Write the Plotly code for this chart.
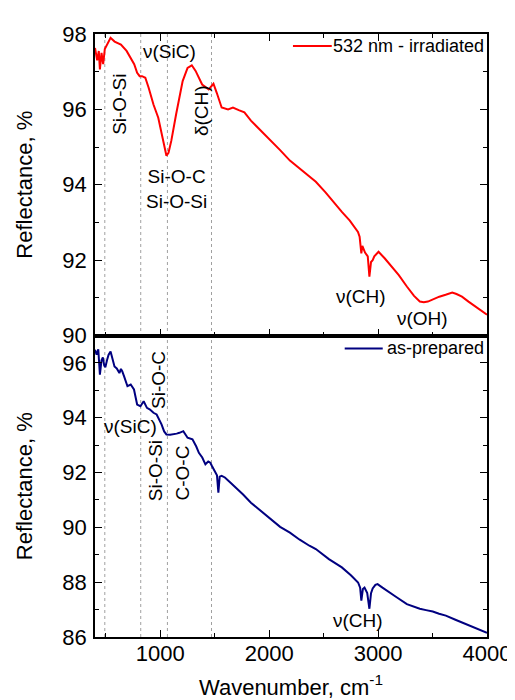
import plotly.graph_objects as go
from plotly.subplots import make_subplots

# ---------------- data ----------------
wn_irr = [400, 420, 435, 445, 460, 475, 490, 520, 543, 580, 638, 690, 728, 760, 787, 810, 832, 862,
          892, 937, 981, 1011, 1035, 1056, 1075, 1101, 1145, 1205, 1250, 1289, 1324, 1384, 1444, 1488,
          1518, 1563, 1622, 1667, 1720, 1772, 1832, 1920, 2011, 2100, 2190, 2280, 2369, 2428, 2517,
          2600, 2667, 2740, 2786, 2815, 2830, 2846, 2855, 2880, 2905, 2920, 2935, 2950, 2965, 3004,
          3060, 3114, 3190, 3264, 3330, 3383, 3420, 3457, 3510, 3562, 3620, 3681, 3720, 3770, 3830,
          3890, 3950, 4000]
refl_irr = [97.63, 97.3, 97.55, 97.06, 97.5, 97.2, 97.6, 97.75, 97.9, 97.8, 97.72, 97.55, 97.37, 97.2,
            96.97, 96.88, 96.88, 96.84, 96.58, 96.13, 95.78, 95.34, 95.0, 94.77, 94.85, 95.17, 95.87,
            96.75, 97.1, 97.17, 97.02, 96.66, 96.53, 96.68, 96.44, 96.05, 96.0, 96.05, 95.98, 95.92,
            95.70, 95.45, 95.17, 94.92, 94.64, 94.42, 94.2, 94.08, 93.8, 93.5, 93.28, 93.05, 92.88,
            92.75, 92.62, 92.18, 92.38, 92.2, 92.1, 91.56, 91.95, 92.0, 92.1, 92.22, 92.05, 91.87,
            91.6, 91.3, 91.05, 90.9, 90.88, 90.9, 90.97, 91.03, 91.08, 91.14, 91.1, 91.03, 90.9,
            90.77, 90.65, 90.55]

wn_prep = [400, 415, 430, 445, 460, 472, 485, 495, 510, 525, 543, 560, 579, 600, 624, 638, 650, 668,
           698, 728, 758, 787, 817, 847, 877, 905, 937, 966, 990, 1011, 1035, 1056, 1090, 1116, 1150,
           1175, 1211, 1250, 1295, 1330, 1354, 1385, 1414, 1440, 1459, 1474, 1503, 1520, 1533, 1545,
           1563, 1593, 1640, 1682, 1760, 1832, 1920, 2011, 2100, 2190, 2280, 2369, 2428, 2548, 2667,
           2750, 2816, 2835, 2846, 2860, 2875, 2900, 2920, 2935, 2950, 2975, 2995, 3040, 3084, 3170,
           3264, 3330, 3383, 3440, 3502, 3560, 3622, 3710, 3800, 3890, 3979, 4000]
refl_prep = [96.48, 96.3, 96.5, 95.57, 96.1, 96.2, 95.9, 95.84, 96.1, 96.3, 96.42, 96.1, 95.87, 95.8,
             95.63, 95.78, 95.7, 95.5, 95.15, 95.21, 95.03, 94.48, 94.42, 94.6, 94.36, 94.3, 94.18,
             94.12, 93.95, 93.76, 93.5, 93.39, 93.38, 93.39, 93.42, 93.45, 93.51, 93.27, 93.21, 92.95,
             92.72, 92.55, 92.3, 92.4, 92.36, 92.24, 92.0, 91.9, 91.27, 91.85, 91.88, 91.82, 91.65,
             91.5, 91.2, 90.9, 90.6, 90.3, 90.02, 89.81, 89.55, 89.33, 89.21, 88.84, 88.54, 88.25,
             87.99, 87.8, 87.33, 87.75, 87.8, 87.6, 87.03, 87.6, 87.77, 87.9, 87.93, 87.8, 87.69,
             87.45, 87.2, 87.1, 87.03, 86.98, 86.93, 86.85, 86.78, 86.63, 86.48, 86.32, 86.17, 86.15]

band_lines = [490, 820, 1065, 1470]

# annotations: (text, x, y, angle)
top_labels = [("Si-O-Si", 624, 96.13, -90),
              ("ν(SiC)", 1086, 97.54, 0),
              ("Si-O-C<br>Si-O-Si", 1145, 93.9, 0),
              ("δ(CH)", 1384, 95.96, -90),
              ("ν(CH)", 2846, 91.03, 0),
              ("ν(OH)", 3412, 90.46, 0)]
bottom_labels = [("Si-O-C", 982, 95.39, -90),
                 ("ν(SiC)", 728, 93.69, 0),
                 ("Si-O-Si", 951, 92.05, -90),
                 ("C-O-C", 1205, 91.99, -90),
                 ("ν(CH)", 2816, 86.6, 0)]

name_irr = "532 nm - irradiated"
name_prep = "as-prepared"

# ---------------- figure ----------------
FONT = "Liberation Sans, Arial, sans-serif"
ANN = 19
LEG = 18
fig = make_subplots(rows=2, cols=1, shared_xaxes=True, vertical_spacing=0)

fig.add_trace(go.Scatter(x=wn_irr, y=refl_irr, mode="lines", name=name_irr,
                         line=dict(color="#FF0000", width=2), showlegend=False), row=1, col=1)
fig.add_trace(go.Scatter(x=wn_prep, y=refl_prep, mode="lines", name=name_prep,
                         line=dict(color="#000080", width=2), showlegend=False), row=2, col=1)

for xv in band_lines:
    fig.add_shape(type="line", xref="x", yref="paper", x0=xv, x1=xv, y0=0, y1=1,
                  line=dict(color="#a0a0a0", width=1, dash="dot"), layer="below")

for txt, xv, yv, ang in top_labels:
    fig.add_annotation(text=txt, x=xv, y=yv, xref="x", yref="y", showarrow=False,
                       textangle=ang, font=dict(size=ANN, color="black", family=FONT))
for txt, xv, yv, ang in bottom_labels:
    fig.add_annotation(text=txt, x=xv, y=yv, xref="x2", yref="y2", showarrow=False,
                       textangle=ang, font=dict(size=ANN, color="black", family=FONT))

# manual legends (one per panel)
legend_items = [(name_irr, "#FF0000", 0.505, 0.604, 0.980),
                (name_prep, "#000080", 0.637, 0.734, 0.4785)]
for nm, col, lx0, lx1, ly in legend_items:
    fig.add_shape(type="line", xref="paper", yref="paper", x0=lx0, x1=lx1, y0=ly, y1=ly,
                  line=dict(color=col, width=2))
    fig.add_annotation(text=nm, xref="paper", yref="paper", x=0.997, y=ly, xanchor="right",
                       yanchor="middle", showarrow=False,
                       font=dict(size=LEG, color="black", family=FONT))

axis_common = dict(showline=True, linecolor="black", linewidth=1.5, ticks="inside",
                   tickcolor="black", tickwidth=1.3, ticklen=7, showgrid=False, zeroline=False,
                   tickfont=dict(size=22, family=FONT, color="black"))

fig.update_xaxes(range=[400, 4000], dtick=1000, tick0=0, mirror="ticks",
                 minor=dict(dtick=500, tick0=0, ticks="inside", ticklen=4, tickcolor="black",
                            tickwidth=1.3),
                 **axis_common)
fig.update_xaxes(showticklabels=False, row=1, col=1)
fig.update_xaxes(mirror=True, ticklabelstandoff=-4, row=2, col=1)
fig.update_xaxes(title=dict(text="Wavenumber, cm<sup>-1</sup>", font=dict(size=22, family=FONT),
                            standoff=14), row=2, col=1)

fig.update_yaxes(mirror="ticks", dtick=2, ticklabelstandoff=2,
                 minor=dict(dtick=1, ticks="inside", ticklen=4, tickcolor="black", tickwidth=1.3),
                 title=dict(text="Reflectance, %", font=dict(size=22, family=FONT), standoff=24),
                 **axis_common)
fig.update_yaxes(range=[90, 98], tick0=90, row=1, col=1)
fig.update_yaxes(range=[86, 97], tick0=86, row=2, col=1)

fig.update_layout(
    width=515, height=700,
    margin=dict(l=87, r=26, t=26, b=68),
    paper_bgcolor="white", plot_bgcolor="white",
    font=dict(family=FONT, color="black"),
    showlegend=False,
)

fig.write_html("out.html")
